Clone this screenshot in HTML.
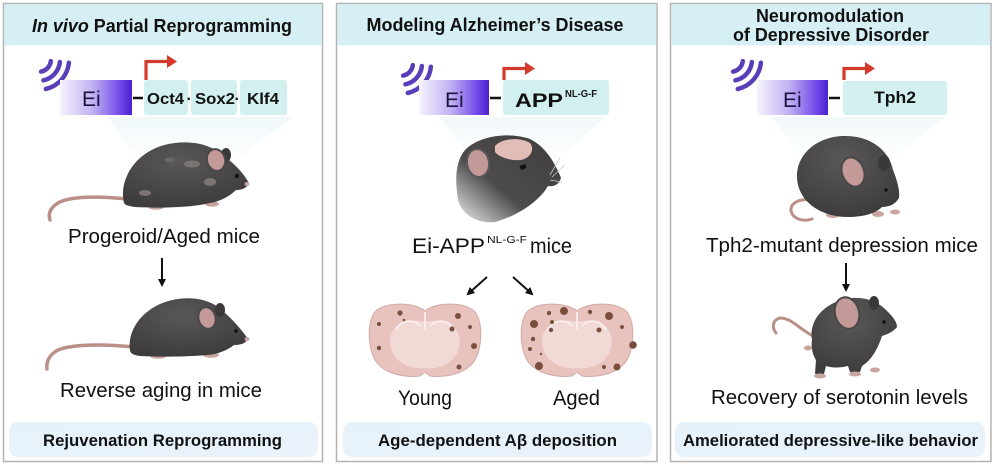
<!DOCTYPE html>
<html><head><meta charset="utf-8"><style>
html,body{margin:0;padding:0;background:#fff;}
svg{display:block;}
text{font-family:"Liberation Sans",Arial,sans-serif;fill:#111;}
.b{font-weight:bold;}
</style></head><body>
<svg width="996" height="469" viewBox="0 0 996 469" xmlns="http://www.w3.org/2000/svg">
<defs>
<linearGradient id="ei" x1="0" y1="0" x2="1" y2="0">
<stop offset="0" stop-color="#f6f3fd"/>
<stop offset="0.45" stop-color="#c2b1f2"/>
<stop offset="0.85" stop-color="#6e45e8"/>
<stop offset="1" stop-color="#4a20d0"/>
</linearGradient>
<linearGradient id="bot" x1="0" y1="0" x2="1" y2="1">
<stop offset="0" stop-color="#e6f1fa"/>
<stop offset="1" stop-color="#eaf3fb"/>
</linearGradient>
<linearGradient id="cone" x1="0" y1="0" x2="0" y2="1">
<stop offset="0" stop-color="#e6f3f7" stop-opacity="0.6"/>
<stop offset="1" stop-color="#f6fafb" stop-opacity="0.1"/>
</linearGradient>
<linearGradient id="head" x1="1" y1="0" x2="0" y2="1">
<stop offset="0" stop-color="#3f3d3d"/>
<stop offset="0.6" stop-color="#4d4b4b"/>
<stop offset="1" stop-color="#f0f0f0"/>
</linearGradient>
<radialGradient id="fur" cx="0.45" cy="0.3" r="0.7">
<stop offset="0" stop-color="#5a5757"/>
<stop offset="1" stop-color="#3e3c3c"/>
</radialGradient>
<marker id="ah" markerWidth="8" markerHeight="8" refX="6" refY="4" orient="auto" markerUnits="userSpaceOnUse">
<path d="M0,0 L8,4 L0,8 Z" fill="#111"/>
</marker>
</defs>

<rect x="3.5" y="3.5" width="319" height="458" fill="#fff" stroke="#b3b3b3" stroke-width="1.5"/>
<rect x="336.5" y="3.5" width="320.5" height="458" fill="#fff" stroke="#b3b3b3" stroke-width="1.5"/>
<rect x="670.5" y="3.5" width="320.5" height="458" fill="#fff" stroke="#b3b3b3" stroke-width="1.5"/>
<rect x="4.3" y="4.3" width="317.4" height="41" fill="#d5eff4"/>
<rect x="337.3" y="4.3" width="319" height="41" fill="#d5eff4"/>
<rect x="671.3" y="4.3" width="319" height="41" fill="#d5eff4"/>

<text x="162" y="32" text-anchor="middle" class="b" font-size="18" textLength="260" lengthAdjust="spacingAndGlyphs"><tspan font-style="italic">In vivo</tspan> Partial Reprogramming</text>
<text x="495" y="31" text-anchor="middle" class="b" font-size="18" textLength="257" lengthAdjust="spacingAndGlyphs">Modeling Alzheimer’s Disease</text>
<text x="830" y="22" text-anchor="middle" class="b" font-size="18" textLength="148" lengthAdjust="spacingAndGlyphs">Neuromodulation</text>
<text x="831" y="41" text-anchor="middle" class="b" font-size="18" textLength="196" lengthAdjust="spacingAndGlyphs">of Depressive Disorder</text>

<polygon points="108,117 292,117 215,178 150,178" fill="url(#cone)"/>
<polygon points="440,117 605,117 548,170 478,170" fill="url(#cone)"/>
<polygon points="772,117 945,117 885,165 805,165" fill="url(#cone)"/>

<g fill="none" stroke="#5a3db8" stroke-width="4.5" stroke-linecap="round">
<path d="M50.8,61.1 A12,12 0 0 1 41.1,71.6"/>
<path d="M59.9,62 A21,21 0 0 1 43.4,80.3"/>
<path d="M68.9,62.7 A30,30 0 0 1 45.8,89"/>
<path d="M412.8,65.1 A12,12 0 0 1 403.1,75.6"/>
<path d="M421.9,66 A21,21 0 0 1 405.4,84.3"/>
<path d="M430.9,66.7 A30,30 0 0 1 407.8,93"/>
<path d="M742.8,61.1 A12,12 0 0 1 733.1,71.6"/>
<path d="M751.9,62 A21,21 0 0 1 735.4,80.3"/>
<path d="M760.9,62.7 A30,30 0 0 1 737.8,89"/>
</g>

<rect x="60" y="80" width="72" height="35" fill="url(#ei)"/>
<rect x="419" y="80" width="70" height="35" fill="url(#ei)"/>
<rect x="757" y="80" width="71" height="35" fill="url(#ei)"/>
<text x="82" y="106" font-size="21" style="fill:#1a1440">Ei</text>
<text x="445" y="107" font-size="21" style="fill:#1a1440">Ei</text>
<text x="783" y="107" font-size="21" style="fill:#1a1440">Ei</text>

<g stroke="#111" stroke-width="2.5">
<line x1="133" y1="98" x2="143" y2="98"/>
<line x1="490" y1="98" x2="501" y2="98"/>
<line x1="829" y1="98" x2="840" y2="98"/>
</g>

<rect x="144" y="80" width="44" height="35" rx="3" fill="#d3f0f0"/>
<rect x="191" y="80" width="46" height="35" rx="3" fill="#d3f0f0"/>
<rect x="240" y="80" width="47" height="35" rx="3" fill="#d3f0f0"/>
<rect x="503" y="80" width="106" height="35" rx="3" fill="#d3f0f0"/>
<rect x="843" y="81" width="104" height="34" rx="3" fill="#d3f0f0"/>

<text x="147" y="104" class="b" font-size="16" textLength="37" lengthAdjust="spacingAndGlyphs">Oct4</text>
<text x="186.5" y="104" class="b" font-size="16">·</text>
<text x="195" y="104" class="b" font-size="16" textLength="40" lengthAdjust="spacingAndGlyphs">Sox2</text>
<text x="234.5" y="104" class="b" font-size="16">·</text>
<text x="247" y="104" class="b" font-size="16" textLength="32" lengthAdjust="spacingAndGlyphs">Klf4</text>
<text x="515" y="107" class="b" font-size="19" textLength="48" lengthAdjust="spacingAndGlyphs">APP</text>
<text x="565" y="97" class="b" font-size="10.5" textLength="32" lengthAdjust="spacingAndGlyphs">NL-G-F</text>
<text x="874" y="103" class="b" font-size="17" textLength="42" lengthAdjust="spacingAndGlyphs">Tph2</text>

<g fill="none" stroke="#d43a2c" stroke-width="3.2">
<path d="M146,80 V61.5 H168"/>
<path d="M504,80 V68.5 H526"/>
<path d="M844,80 V68.5 H866"/>
</g>
<g fill="#d43a2c">
<path d="M167,55 L177,61.5 L167,68 Z"/>
<path d="M525,62 L535,68.5 L525,75 Z"/>
<path d="M865,62 L875,68.5 L865,75 Z"/>
</g>

<!-- Mouse 1 -->
<path d="M127,199 C100,196 70,196 58,203 C50,208 48,214 50,220" fill="none" stroke="#b98f88" stroke-width="3.5" stroke-linecap="round"/>
<ellipse cx="156" cy="207" rx="8" ry="2.8" fill="#c9a5a0"/>
<ellipse cx="212" cy="204" rx="7" ry="2.6" fill="#c9a5a0"/>
<path d="M124,203 C118,178 138,147 175,143 C200,140 215,148 225,157 C235,164 244,174 249,183 C247,188 242,190 236,190 C230,196 222,200 215,202 L200,205 C180,208 150,208 135,207 C128,206 125,205 124,203 Z" fill="url(#fur)"/>
<ellipse cx="192" cy="164" rx="8" ry="3.5" fill="#7c7373"/>
<ellipse cx="210" cy="182" rx="6" ry="4" fill="#7c7373"/>
<ellipse cx="145" cy="193" rx="6" ry="3" fill="#7c7373"/>
<ellipse cx="170" cy="160" rx="5" ry="2.5" fill="#6e6666"/>
<ellipse cx="226" cy="155" rx="5" ry="7" fill="#3b3939"/>
<ellipse cx="216" cy="160" rx="9" ry="11" transform="rotate(-15 216 160)" fill="#c49a98" stroke="#4a4848" stroke-width="2"/>
<circle cx="237" cy="176" r="2" fill="#111"/>
<ellipse cx="247" cy="184" rx="2.5" ry="2" fill="#c9a5a0"/>

<text x="164" y="243" text-anchor="middle" font-size="20" textLength="192" lengthAdjust="spacingAndGlyphs">Progeroid/Aged mice</text>
<line x1="162" y1="258" x2="162" y2="285" stroke="#111" stroke-width="2" marker-end="url(#ah)"/>

<!-- Mouse 2 -->
<path d="M133,347 C105,344 72,344 58,350 C49,355 46,362 47,369" fill="none" stroke="#b98f88" stroke-width="3.5" stroke-linecap="round"/>
<ellipse cx="158" cy="356" rx="8" ry="2.8" fill="#c9a5a0"/>
<ellipse cx="211" cy="355" rx="8" ry="2.8" fill="#c9a5a0"/>
<path d="M130,350 C127,326 148,303 178,299 C200,296 215,303 224,312 C233,320 242,330 248,339 C245,344 240,345 234,345 C228,350 218,354 208,355 C185,357 155,357 140,356 C133,355 130,353 130,350 Z" fill="url(#fur)"/>
<ellipse cx="220" cy="310" rx="5" ry="7" fill="#3b3939"/>
<ellipse cx="207" cy="318" rx="8.5" ry="11" transform="rotate(-15 207 318)" fill="#c49a98" stroke="#4a4848" stroke-width="2"/>
<circle cx="236" cy="331" r="1.8" fill="#111"/>
<ellipse cx="247" cy="339" rx="2.5" ry="2" fill="#c9a5a0"/>

<text x="161" y="397" text-anchor="middle" font-size="20" textLength="202" lengthAdjust="spacingAndGlyphs">Reverse aging in mice</text>

<rect x="9" y="422" width="309" height="35" rx="9" fill="url(#bot)"/>
<rect x="343" y="422" width="309" height="35" rx="9" fill="url(#bot)"/>
<rect x="675" y="422" width="310" height="35" rx="9" fill="url(#bot)"/>
<text x="162.5" y="446" text-anchor="middle" class="b" font-size="16.5" textLength="239" lengthAdjust="spacingAndGlyphs">Rejuvenation Reprogramming</text>
<text x="497.5" y="446" text-anchor="middle" class="b" font-size="16.5" textLength="239" lengthAdjust="spacingAndGlyphs">Age-dependent Aβ deposition</text>
<text x="830.5" y="446" text-anchor="middle" class="b" font-size="16.5" textLength="295" lengthAdjust="spacingAndGlyphs">Ameliorated depressive-like behavior</text>

<!-- Panel 2 mouse head -->
<path d="M465,150 C480,135 510,132 530,139 C546,147 555,163 561,178 C559,185 553,187 548,186 C540,200 520,215 495,222 C478,224 462,215 458,200 C455,180 455,162 465,150 Z" fill="url(#head)"/>
<path d="M495,146 C502,138 520,137 530,143 C535,149 531,158 521,160 C510,161 499,157 495,152 Z" fill="#e2bdb8"/>
<ellipse cx="478" cy="163" rx="11" ry="14" transform="rotate(-10 478 163)" fill="#c49a98" stroke="#5a5858" stroke-width="2"/>
<rect x="520" y="165" width="6" height="4" fill="#111" transform="rotate(-20 523 167)"/>
<g stroke="#ccc" stroke-width="0.8"><line x1="550" y1="175" x2="560" y2="158"/><line x1="552" y1="177" x2="565" y2="165"/><line x1="550" y1="180" x2="562" y2="182"/></g>

<text x="412" y="253" font-size="21" textLength="73" lengthAdjust="spacingAndGlyphs">Ei-APP</text>
<text x="487" y="243" font-size="10.5" textLength="40" lengthAdjust="spacingAndGlyphs">NL-G-F</text>
<text x="530" y="253" font-size="21" textLength="42" lengthAdjust="spacingAndGlyphs">mice</text>
<line x1="487" y1="277" x2="468" y2="294" stroke="#111" stroke-width="2" marker-end="url(#ah)"/>
<line x1="513" y1="277" x2="532" y2="294" stroke="#111" stroke-width="2" marker-end="url(#ah)"/>

<!-- Brains -->
<path d="M425,311 C415,303 390,301 377,310 C367,318 367,345 375,360 C383,373 403,378 420,376 L425,372 L430,376 C447,378 467,373 475,360 C483,345 483,318 473,310 C460,301 435,303 425,311 Z" fill="#e8c3be" stroke="#d2aaa4" stroke-width="1"/>
<path d="M425,322 C410,318 392,322 390,340 C390,358 405,370 425,368 C445,370 460,358 460,340 C458,322 440,318 425,322 Z" fill="#f1dad6"/>
<g fill="none" stroke="#fbeeee" stroke-width="1.8"><path d="M396,330 C402,318 415,320 420,326"/><path d="M454,330 C448,318 435,320 430,326"/><path d="M425,312 V330"/></g>
<g fill="#7a4e3c">
<circle cx="400" cy="313" r="2.6"/><circle cx="404" cy="320" r="1.3"/><circle cx="379" cy="324" r="2"/><circle cx="458" cy="316" r="3"/>
<circle cx="452" cy="329" r="2.5"/><circle cx="470" cy="327" r="2"/><circle cx="379" cy="348" r="2.2"/><circle cx="474" cy="346" r="3"/>
<circle cx="459" cy="367" r="2.5"/>
</g>
<path d="M577,311 C567,303 542,301 529,310 C519,318 519,345 527,360 C535,373 555,378 572,376 L577,372 L582,376 C599,378 619,373 627,360 C635,345 635,318 625,310 C612,301 587,303 577,311 Z" fill="#e8c3be" stroke="#d2aaa4" stroke-width="1"/>
<path d="M577,322 C562,318 544,322 542,340 C542,358 557,370 577,368 C597,370 612,358 612,340 C610,322 592,318 577,322 Z" fill="#f1dad6"/>
<g fill="none" stroke="#fbeeee" stroke-width="1.8"><path d="M548,330 C554,318 567,320 572,326"/><path d="M606,330 C600,318 587,320 582,326"/><path d="M577,312 V330"/></g>
<g fill="#7a4e3c">
<circle cx="549" cy="313" r="2.2"/><circle cx="564" cy="311" r="4"/><circle cx="590" cy="312" r="2.2"/><circle cx="609" cy="316" r="4"/>
<circle cx="534" cy="324" r="4"/><circle cx="552" cy="322" r="2"/><circle cx="551" cy="330" r="2.2"/><circle cx="599" cy="330" r="2.5"/>
<circle cx="622" cy="327" r="2"/><circle cx="533" cy="339" r="2.2"/><circle cx="633" cy="345" r="3.8"/><circle cx="530" cy="349" r="2"/>
<circle cx="541" cy="354" r="1.2"/><circle cx="539" cy="366" r="4"/><circle cx="617" cy="367" r="3.5"/><circle cx="604" cy="367" r="2"/>
</g>

<text x="425" y="405" text-anchor="middle" font-size="21" textLength="54" lengthAdjust="spacingAndGlyphs">Young</text>
<text x="576.5" y="405" text-anchor="middle" font-size="21" textLength="47" lengthAdjust="spacingAndGlyphs">Aged</text>

<!-- Panel 3 curled mouse -->
<path d="M812,200 C798,198 790,204 791,211 C793,219 803,222 812,219" fill="none" stroke="#b98f88" stroke-width="3" stroke-linecap="round"/>
<ellipse cx="833" cy="215" rx="7" ry="3" fill="#c9a5a0"/>
<ellipse cx="878" cy="214" rx="6" ry="3" fill="#c9a5a0"/>
<path d="M798,185 C792,158 814,137 843,136 C870,135 889,150 893,170 C897,180 900,190 899,198 C895,205 888,207 882,207 C875,214 862,217 848,217 C824,217 803,205 798,185 Z" fill="url(#fur)"/>
<ellipse cx="884" cy="163" rx="6" ry="8" fill="#3a3838"/>
<ellipse cx="853" cy="172" rx="11" ry="15" transform="rotate(-20 853 172)" fill="#c49a98" stroke="#4a4848" stroke-width="2"/>
<circle cx="886" cy="190" r="1.8" fill="#111"/>
<ellipse cx="895" cy="212" rx="5" ry="2.5" fill="#c9a5a0"/>

<text x="842" y="252" text-anchor="middle" font-size="20" textLength="272" lengthAdjust="spacingAndGlyphs">Tph2-mutant depression mice</text>
<line x1="846" y1="263" x2="846" y2="290" stroke="#111" stroke-width="2" marker-end="url(#ah)"/>

<!-- Panel 3 standing mouse -->
<path d="M815,337 C800,330 792,318 780,318 C772,320 772,328 776,333" fill="none" stroke="#b98f88" stroke-width="3" stroke-linecap="round"/>
<path d="M812,340 C808,318 828,300 852,298 C868,297 880,303 888,312 C893,317 897,322 897,327 C893,332 888,334 882,336 C878,348 872,360 862,366 L860,372 L850,372 L848,366 C840,368 832,368 826,366 L824,374 L815,374 L816,360 C812,353 811,347 812,340 Z" fill="url(#fur)"/>
<ellipse cx="874" cy="303" rx="5" ry="7" fill="#3a3838"/>
<ellipse cx="847" cy="313" rx="12" ry="16" transform="rotate(-15 847 313)" fill="#c49a98" stroke="#4a4848" stroke-width="2"/>
<circle cx="884" cy="322" r="1.8" fill="#111"/>
<ellipse cx="820" cy="376" rx="6" ry="2.5" fill="#c9a5a0"/>
<ellipse cx="855" cy="374" rx="6" ry="2.5" fill="#c9a5a0"/>
<ellipse cx="875" cy="370" rx="5" ry="2.5" fill="#c9a5a0"/>
<ellipse cx="808" cy="348" rx="4" ry="2.5" fill="#c9a5a0"/>

<text x="839.5" y="404" text-anchor="middle" font-size="20" textLength="257" lengthAdjust="spacingAndGlyphs">Recovery of serotonin levels</text>
</svg>
</body></html>
